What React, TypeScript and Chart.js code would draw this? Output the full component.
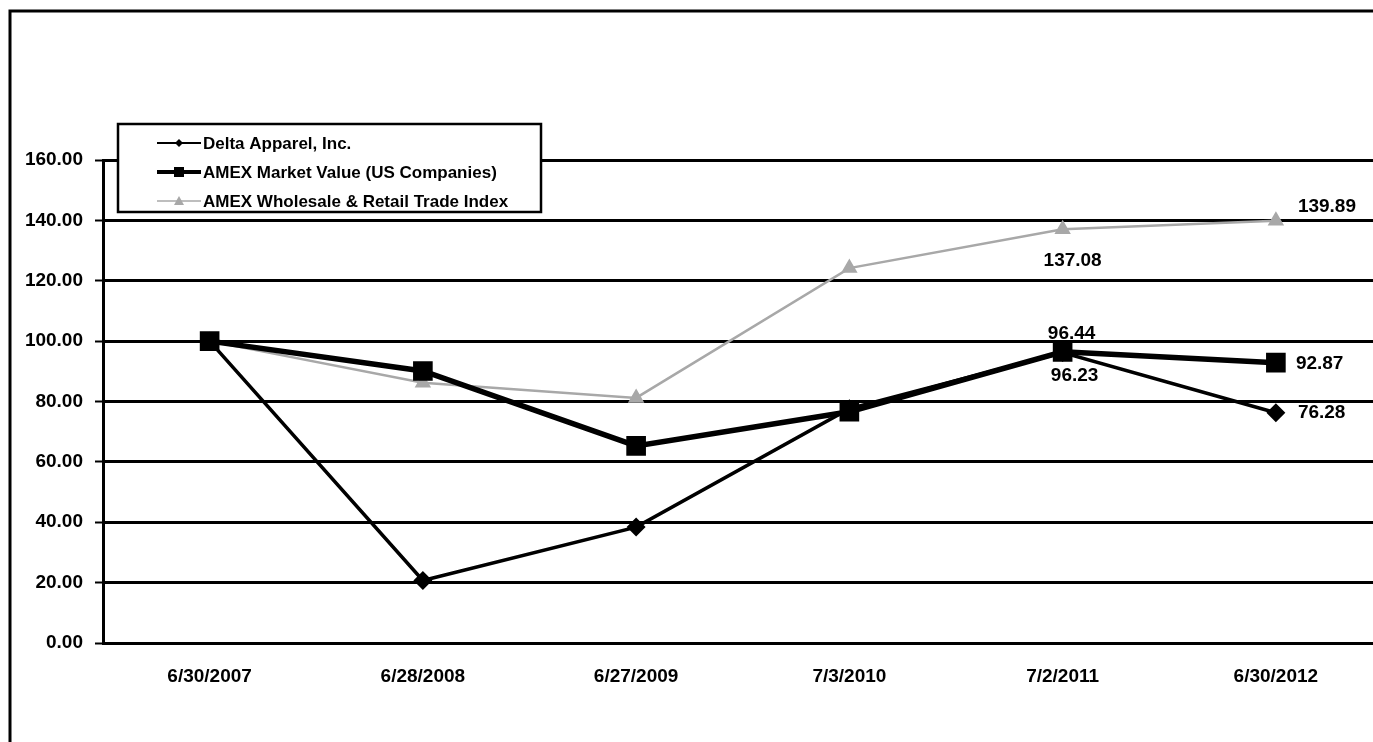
import React, { useEffect, useRef } from 'react';
import { Chart, registerables } from 'chart.js';

Chart.register(...registerables);

const categories = ['6/30/2007', '6/28/2008', '6/27/2009', '7/3/2010', '7/2/2011', '6/30/2012'];
const seriesNames = [
  'Delta Apparel, Inc.',
  'AMEX Market Value (US Companies)',
  'AMEX Wholesale & Retail Trade Index',
];
const deltaApparel = [100, 20.7, 38.4, 77.6, 96.23, 76.28];
const amexMarketValue = [100, 90.1, 65.3, 76.6, 96.44, 92.87];
const amexWholesaleRetail = [100, 86.2, 81.2, 124.2, 137.08, 139.89];
const yTickValues = [0, 20, 40, 60, 80, 100, 120, 140, 160];

const FONT = "'Liberation Sans', Arial, sans-serif";
const GRAY = '#a8a8a8';

const labelSpecs = [
  { ds: 2, i: 4, dx: 10, dy: 32, align: 'center' },
  { ds: 2, i: 5, dx: 22, dy: -14, align: 'left' },
  { ds: 1, i: 4, dx: 9, dy: -18, align: 'center' },
  { ds: 0, i: 4, dx: 12, dy: 23, align: 'center' },
  { ds: 1, i: 5, dx: 20, dy: 1, align: 'left' },
  { ds: 0, i: 5, dx: 22, dy: 0, align: 'left' },
];

const framePlugin = {
  id: 'frame',
  beforeDraw(chart: any) {
    const ctx = chart.ctx;
    ctx.save();
    ctx.fillStyle = '#fff';
    ctx.fillRect(0, 0, chart.width, chart.height);
    ctx.strokeStyle = '#000';
    ctx.lineWidth = 3;
    ctx.beginPath();
    ctx.moveTo(10, chart.height + 5);
    ctx.lineTo(10, 11);
    ctx.lineTo(chart.width + 5, 11);
    ctx.stroke();
    ctx.restore();
  },
};

const dataLabelPlugin = {
  id: 'dataLabels',
  afterDatasetsDraw(chart: any) {
    const ctx = chart.ctx;
    ctx.save();
    ctx.fillStyle = '#000';
    ctx.font = `bold 19px ${FONT}`;
    ctx.textBaseline = 'middle';
    labelSpecs.forEach((s) => {
      const meta = chart.getDatasetMeta(s.ds);
      const pt = meta.data[s.i];
      const v = chart.data.datasets[s.ds].data[s.i] as number;
      ctx.textAlign = s.align;
      ctx.fillText(v.toFixed(2), pt.x + s.dx, pt.y + s.dy);
    });
    ctx.restore();
  },
};

function drawMarker(ctx: CanvasRenderingContext2D, kind: string, x: number, y: number, r: number) {
  ctx.beginPath();
  if (kind === 'diamond') {
    ctx.moveTo(x, y - r);
    ctx.lineTo(x + r, y);
    ctx.lineTo(x, y + r);
    ctx.lineTo(x - r, y);
  } else if (kind === 'square') {
    ctx.rect(x - r, y - r, 2 * r, 2 * r);
  } else {
    ctx.moveTo(x, y - r);
    ctx.lineTo(x + r, y + r * 0.8);
    ctx.lineTo(x - r, y + r * 0.8);
  }
  ctx.closePath();
  ctx.fill();
}

const legendPlugin = {
  id: 'boxLegend',
  afterDraw(chart: any) {
    const ctx = chart.ctx;
    const left = 118, top = 124, right = 541, bottom = 212;
    ctx.save();
    ctx.fillStyle = '#fff';
    ctx.fillRect(left, top, right - left, bottom - top);
    ctx.strokeStyle = '#000';
    ctx.lineWidth = 2.5;
    ctx.strokeRect(left, top, right - left, bottom - top);
    const rows = [143, 172, 201];
    const styles = [
      { color: '#000', width: 2, marker: 'diamond', r: 4 },
      { color: '#000', width: 4, marker: 'square', r: 5 },
      { color: GRAY, width: 1.5, marker: 'triangle', r: 5 },
    ];
    chart.data.datasets.forEach((ds: any, k: number) => {
      const y = rows[k];
      const st = styles[k];
      ctx.strokeStyle = st.color;
      ctx.lineWidth = st.width;
      ctx.beginPath();
      ctx.moveTo(157, y);
      ctx.lineTo(201, y);
      ctx.stroke();
      ctx.fillStyle = st.color;
      drawMarker(ctx, st.marker, 179, y, st.r);
      ctx.fillStyle = '#000';
      ctx.font = `bold 17px ${FONT}`;
      ctx.textAlign = 'left';
      ctx.textBaseline = 'middle';
      ctx.fillText(ds.label, 203, y + 1);
    });
    ctx.restore();
  },
};

export default function App() {
  const ref = useRef<HTMLCanvasElement>(null);

  useEffect(() => {
    document.body.style.margin = '0';
    document.body.style.overflow = 'hidden';
    const chart = new Chart(ref.current as HTMLCanvasElement, {
      type: 'line',
      data: {
        labels: categories,
        datasets: [
          {
            label: seriesNames[0],
            data: deltaApparel,
            borderColor: '#000',
            backgroundColor: '#000',
            borderWidth: 3.5,
            pointStyle: 'rectRot',
            pointRadius: 7,
            pointBackgroundColor: '#000',
            pointBorderColor: '#000',
            tension: 0,
          },
          {
            label: seriesNames[1],
            data: amexMarketValue,
            borderColor: '#000',
            backgroundColor: '#000',
            borderWidth: 5.5,
            pointStyle: 'rect',
            pointRadius: 10,
            pointBackgroundColor: '#000',
            pointBorderColor: '#000',
            tension: 0,
          },
          {
            label: seriesNames[2],
            data: amexWholesaleRetail,
            borderColor: GRAY,
            backgroundColor: GRAY,
            borderWidth: 2.5,
            pointStyle: 'triangle',
            pointRadius: 7,
            pointBackgroundColor: GRAY,
            pointBorderColor: GRAY,
            tension: 0,
          },
        ],
      },
      options: {
        animation: false,
        responsive: false,
        devicePixelRatio: 1,
        layout: { padding: { top: 160, right: 12, bottom: 0, left: 0 } },
        plugins: {
          legend: { display: false },
          tooltip: { enabled: false },
          title: { display: false },
        },
        scales: {
          x: {
            type: 'category',
            offset: true,
            grid: { display: false, drawTicks: false },
            border: { display: false },
            ticks: {
              color: '#000',
              font: { family: FONT, size: 19, weight: 'bold' },
              padding: 22,
              maxRotation: 0,
              autoSkip: false,
            },
            afterFit: (s: any) => {
              s.height = 99;
            },
          },
          y: {
            min: 0,
            max: 160,
            afterBuildTicks: (s: any) => {
              s.ticks = yTickValues.map((v) => ({ value: v }));
            },
            grid: {
              color: '#000',
              lineWidth: 3,
              tickLength: 8,
              drawTicks: true,
              tickColor: '#000',
              tickWidth: 2,
            },
            border: { display: true, color: '#000', width: 3 },
            ticks: {
              color: '#000',
              font: { family: FONT, size: 19, weight: 'bold' },
              padding: 12,
              callback: (v: any) => Number(v).toFixed(2),
            },
            afterFit: (s: any) => {
              s.width = 103;
            },
          },
        },
      } as any,
      plugins: [framePlugin, dataLabelPlugin, legendPlugin],
    });
    return () => chart.destroy();
  }, []);

  return (
    <div style={{ position: 'fixed', left: 0, top: 0, width: 1373, height: 742, overflow: 'hidden', background: '#fff' }}>
      <canvas ref={ref} width={1398} height={742} style={{ width: 1398, height: 742, display: 'block' }} />
    </div>
  );
}
